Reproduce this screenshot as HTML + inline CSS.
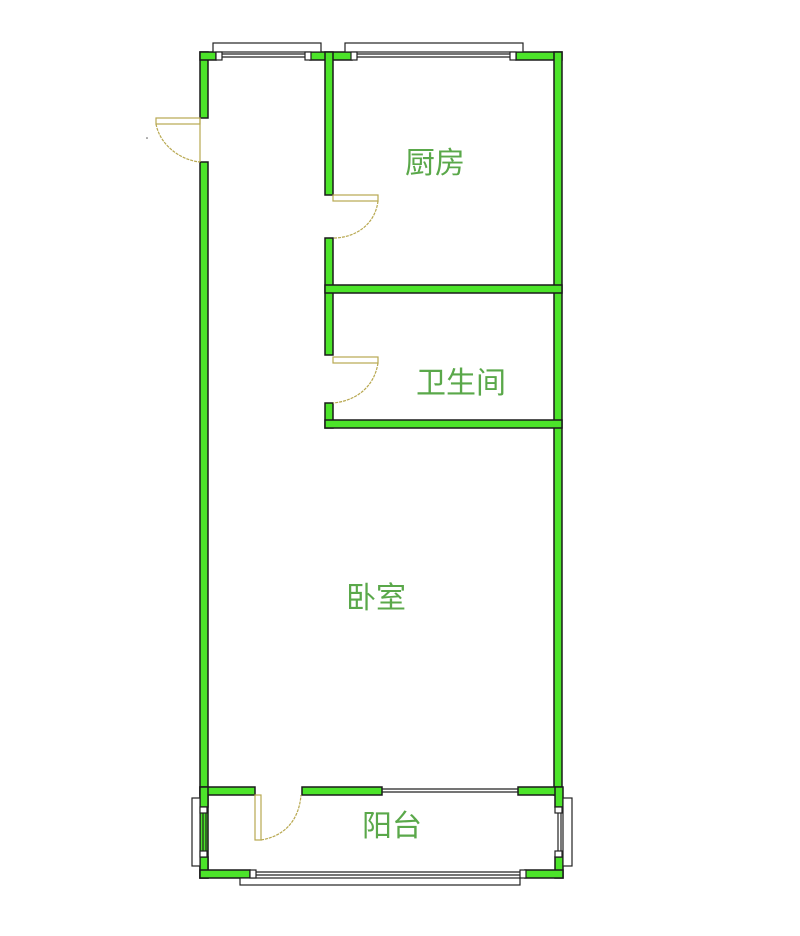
<!DOCTYPE html>
<html><head><meta charset="utf-8"><style>
html,body{margin:0;padding:0;background:#fff;}
svg{display:block}
text{font-family:"Liberation Sans","Noto Sans CJK SC",sans-serif;font-size:30px;fill:#5aa84a;}
</style></head><body>
<svg width="800" height="936" viewBox="0 0 800 936" xmlns="http://www.w3.org/2000/svg">
<g fill="#4ce42a" stroke="#1a1a1a" stroke-width="1.5">
<rect x="200" y="52" width="8" height="66"/>
<rect x="200" y="162" width="8" height="716"/>
<rect x="200" y="52" width="16" height="8"/>
<rect x="310" y="52" width="42" height="8"/>
<rect x="516" y="52" width="46" height="8"/>
<rect x="554" y="52" width="8" height="743"/>
<rect x="325" y="52" width="8" height="143"/>
<rect x="325" y="238" width="8" height="117"/>
<rect x="325" y="403" width="8" height="25"/>
<rect x="325" y="285" width="237" height="8"/>
<rect x="325" y="420" width="237" height="8"/>
<rect x="200" y="787" width="55" height="8"/>
<rect x="302" y="787" width="80" height="8"/>
<rect x="518" y="787" width="44" height="8"/>
<rect x="200" y="787" width="8" height="20"/>
<rect x="200" y="857" width="8" height="21"/>
<rect x="555" y="787" width="8" height="20"/>
<rect x="555" y="857" width="8" height="21"/>
<rect x="200" y="870" width="50" height="8"/>
<rect x="525" y="870" width="38" height="8"/>
</g>
<g fill="none" stroke="#222" stroke-width="1.2">
<rect x="213" y="43" width="108" height="9" fill="#fff"/>
<rect x="345" y="43" width="178" height="9" fill="#fff"/>
<line x1="222" y1="54" x2="310" y2="54"/><line x1="222" y1="57" x2="310" y2="57"/>
<line x1="357" y1="54" x2="510" y2="54"/><line x1="357" y1="57" x2="510" y2="57"/>
<rect x="216" y="52" width="6" height="8" fill="#fff"/><rect x="305" y="52" width="6" height="8" fill="#fff"/>
<rect x="351" y="52" width="6" height="8" fill="#fff"/><rect x="510" y="52" width="6" height="8" fill="#fff"/>
<line x1="382" y1="789" x2="518" y2="789"/><line x1="382" y1="792" x2="518" y2="792"/>
<rect x="192" y="798" width="8" height="68" fill="#fff"/>
<rect x="563" y="798" width="9" height="68" fill="#fff"/>
<line x1="203" y1="807" x2="203" y2="857"/><line x1="206" y1="807" x2="206" y2="857"/>
<line x1="558" y1="807" x2="558" y2="857"/><line x1="561" y1="807" x2="561" y2="857"/>
<rect x="200" y="807" width="7" height="6" fill="#fff"/><rect x="200" y="851" width="7" height="6" fill="#fff"/>
<rect x="555" y="807" width="7" height="6" fill="#fff"/><rect x="555" y="851" width="7" height="6" fill="#fff"/>
<rect x="240" y="878" width="280" height="7" fill="#fff"/>
<line x1="256" y1="872" x2="521" y2="872"/><line x1="256" y1="875" x2="521" y2="875"/>
<rect x="250" y="870" width="6" height="8" fill="#fff"/><rect x="520" y="870" width="6" height="8" fill="#fff"/>
</g>
<g fill="none" stroke="#b8a850" stroke-width="1.2">
<rect x="156" y="118" width="44" height="6"/>
<path d="M156 124 C160 145 180 160 200 162" stroke-dasharray="3 1"/>
<line x1="200" y1="118" x2="200" y2="162"/>
<rect x="333" y="195" width="45" height="6"/>
<path d="M378 201 C375 225 355 238 333 238" stroke-dasharray="3 1"/>
<rect x="333" y="357" width="45" height="6"/>
<path d="M378 363 C374 388 355 401 333 403" stroke-dasharray="3 1"/>
<rect x="255" y="795" width="6" height="45"/>
<path d="M261 840 C285 836 299 820 301 795" stroke-dasharray="3 1"/>
</g>
<circle cx="147" cy="138" r="0.8" fill="#555"/>
<text x="405" y="173">厨房</text>
<text x="416" y="393">卫生间</text>
<text x="346" y="608">卧室</text>
<text x="362" y="836">阳台</text>
</svg>
</body></html>
